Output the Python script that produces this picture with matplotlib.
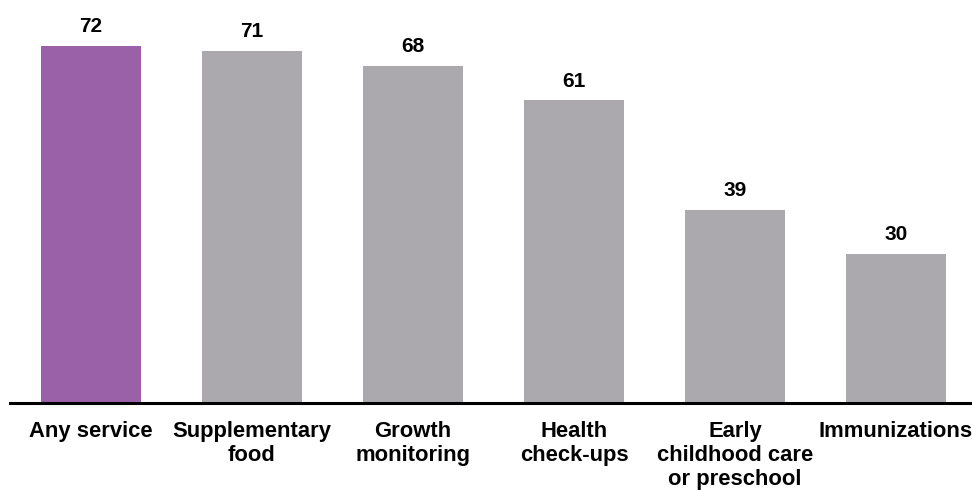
import matplotlib.pyplot as plt

plt.rcParams['font.family'] = ['Liberation Sans', 'DejaVu Sans']

categories = ['Any service', 'Supplementary\nfood', 'Growth\nmonitoring',
              'Health\ncheck-ups', 'Early\nchildhood care\nor preschool',
              'Immunizations']
values = [72, 71, 68, 61, 39, 30]
colors = ['#9b61a8', '#aba9ae', '#aba9ae', '#aba9ae', '#aba9ae', '#aba9ae']

W, H = 972, 490
fig = plt.figure(figsize=(W / 100, H / 100), dpi=100)
# axes placed in pixel terms: baseline at y=403, left edge at x=10
ax = fig.add_axes([10 / W, (H - 403) / H, (W - 10) / W, 403 / H])

x = list(range(len(values)))
ax.bar(x, values, width=0.621, color=colors, zorder=2)
ax.set_xlim(-0.503, 5.472)
ax.set_ylim(0, 81.25)

for xi, v in zip(x, values):
    ax.annotate(str(v), (xi, v), xytext=(0, 7), textcoords='offset points',
                ha='center', va='bottom', fontsize=15, fontweight='bold')

ax.set_xticks(x)
ax.set_xticklabels(categories, fontsize=15.8, fontweight='bold', linespacing=1.2)
ax.tick_params(axis='x', length=0, pad=13)
ax.set_yticks([])
for side in ['left', 'right', 'top']:
    ax.spines[side].set_visible(False)
ax.spines['bottom'].set_linewidth(2.2)
ax.spines['bottom'].set_color('black')

fig.savefig('out.png', dpi=100)
